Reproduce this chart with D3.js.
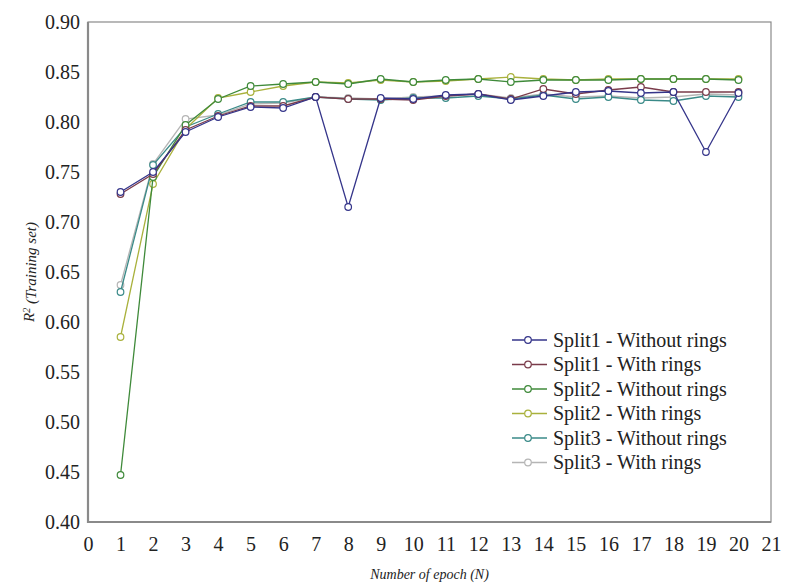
<!DOCTYPE html>
<html>
<head>
<meta charset="utf-8">
<script src="https://cdn.jsdelivr.net/npm/d3@7"></script>
<style>
    body { margin: 0; background: #fff; }
    svg text { font-family: "Liberation Serif", "Times New Roman", serif; fill: #222; }
</style>
</head>
<body>
<div id="lineChart"></div>
<script>
// Epochs on the x axis
const epochs = d3.range(1, 21);

// R2 values, one array per series
const split1Without = [0.730, 0.750, 0.790, 0.805, 0.815, 0.814, 0.825, 0.715, 0.824, 0.823,
    0.827, 0.828, 0.822, 0.826, 0.830, 0.831, 0.829, 0.830, 0.770, 0.829];
const split1With = [0.728, 0.748, 0.792, 0.806, 0.816, 0.816, 0.825, 0.823, 0.823, 0.822,
    0.826, 0.828, 0.823, 0.833, 0.828, 0.832, 0.835, 0.830, 0.830, 0.830];
const split2Without = [0.447, 0.745, 0.797, 0.823, 0.836, 0.838, 0.840, 0.838, 0.843, 0.840,
    0.842, 0.843, 0.840, 0.842, 0.842, 0.842, 0.843, 0.843, 0.843, 0.842];
const split2With = [0.585, 0.738, 0.793, 0.824, 0.830, 0.836, 0.840, 0.839, 0.842, 0.840,
    0.841, 0.843, 0.845, 0.843, 0.842, 0.843, 0.843, 0.843, 0.843, 0.843];
const split3Without = [0.630, 0.757, 0.795, 0.808, 0.820, 0.820, 0.825, 0.823, 0.822, 0.824,
    0.824, 0.826, 0.823, 0.827, 0.823, 0.825, 0.822, 0.821, 0.826, 0.825];
const split3With = [0.637, 0.758, 0.803, 0.807, 0.818, 0.819, 0.825, 0.824, 0.823, 0.825,
    0.826, 0.828, 0.824, 0.828, 0.825, 0.826, 0.824, 0.825, 0.828, 0.827];

const seriesNames = ["Split1 - Without rings", "Split1 - With rings", "Split2 - Without rings",
    "Split2 - With rings", "Split3 - Without rings", "Split3 - With rings"];
const seriesValues = [split1Without, split1With, split2Without, split2With, split3Without, split3With];
const seriesColors = ["#35358a", "#7a3b4a", "#3f8a3a", "#a9b13c", "#3a8a88", "#b5b5b5"];

const xTicks = d3.range(0, 22);
const yTicks = [0.40, 0.45, 0.50, 0.55, 0.60, 0.65, 0.70, 0.75, 0.80, 0.85, 0.90];

// Chart size
const totalWidth = 787;
const totalHeight = 586;
const plot = { left: 88, right: 771, top: 22, bottom: 522 };

function createLineChart() {

    const svg = d3.select("#lineChart")
        .append("svg")
        .attr("width", totalWidth)
        .attr("height", totalHeight);

    const xScale = d3.scaleLinear()
        .domain([0, 21])
        .range([plot.left, plot.right]);

    const yScale = d3.scaleLinear()
        .domain([0.40, 0.90])
        .range([plot.bottom, plot.top]);

    //Axes, labels only
    const xAxis = d3.axisBottom(xScale)
        .tickValues(xTicks)
        .tickSize(0)
        .tickPadding(15)
        .tickFormat(d3.format("d"));

    const yAxis = d3.axisLeft(yScale)
        .tickValues(yTicks)
        .tickSize(0)
        .tickPadding(8)
        .tickFormat(d3.format(".2f"));

    svg.append("g")
        .attr("transform", `translate(0, ${plot.bottom})`)
        .call(xAxis)
        .call(g => g.select(".domain").remove())
        .selectAll("text")
        .style("font-size", "20px");

    svg.append("g")
        .attr("transform", `translate(${plot.left}, 0)`)
        .call(yAxis)
        .call(g => g.select(".domain").remove())
        .selectAll("text")
        .style("font-size", "20px");

    //Frame round the plot
    svg.append("rect")
        .attr("x", plot.left)
        .attr("y", plot.top)
        .attr("width", plot.right - plot.left)
        .attr("height", plot.bottom - plot.top)
        .attr("fill", "none")
        .attr("stroke", "#8a8a8a")
        .attr("stroke-width", 1.2);

    svg.append("path")
        .attr("d", `M${plot.left},${plot.top}V${plot.bottom}H${plot.right}`)
        .attr("fill", "none")
        .attr("stroke", "#8a8a8a")
        .attr("stroke-width", 2.2);

    const line = d3.line()
        .x((d, i) => xScale(epochs[i]))
        .y(d => yScale(d));

    //Lines and markers, drawn in reverse so split1 sits on top
    const order = d3.range(seriesValues.length).reverse();
    order.forEach(k => {
        const g = svg.append("g");
        g.append("path")
            .datum(seriesValues[k])
            .attr("d", line)
            .attr("fill", "none")
            .attr("stroke", seriesColors[k])
            .attr("stroke-width", 1.3);
        g.selectAll("circle")
            .data(seriesValues[k])
            .enter()
            .append("circle")
            .attr("cx", (d, i) => xScale(epochs[i]))
            .attr("cy", d => yScale(d))
            .attr("r", 3.3)
            .attr("fill", "#fff")
            .attr("stroke", seriesColors[k])
            .attr("stroke-width", 1.2);
    });

    //Legend
    const legend = svg.append("g")
        .attr("transform", "translate(512, 340)");

    seriesNames.forEach((name, i) => {
        const row = legend.append("g")
            .attr("transform", `translate(0, ${i * 24.5})`);
        row.append("line")
            .attr("x1", 0).attr("x2", 35)
            .attr("stroke", seriesColors[i])
            .attr("stroke-width", 1.3);
        row.append("circle")
            .attr("cx", 16).attr("r", 3.3)
            .attr("fill", "#fff")
            .attr("stroke", seriesColors[i])
            .attr("stroke-width", 1.2);
        row.append("text")
            .attr("x", 41)
            .attr("dy", "0.33em")
            .style("font-size", "20px")
            .text(name);
    });

    //Axis titles
    svg.append("text")
        .attr("x", (plot.left + plot.right) / 2)
        .attr("y", 579)
        .attr("text-anchor", "middle")
        .style("font-size", "14px")
        .style("font-style", "italic")
        .text("Number of epoch (N)");

    const yTitle = svg.append("text")
        .attr("transform", `translate(34, ${(plot.top + plot.bottom) / 2}) rotate(-90)`)
        .attr("text-anchor", "middle")
        .style("font-size", "15px")
        .style("font-style", "italic");
    yTitle.append("tspan").text("R");
    yTitle.append("tspan").attr("dy", "-0.45em").style("font-size", "10px").text("2");
    yTitle.append("tspan").attr("dy", "0.45em").text(" (Training set)");
}

createLineChart();
</script>
</body>
</html>
